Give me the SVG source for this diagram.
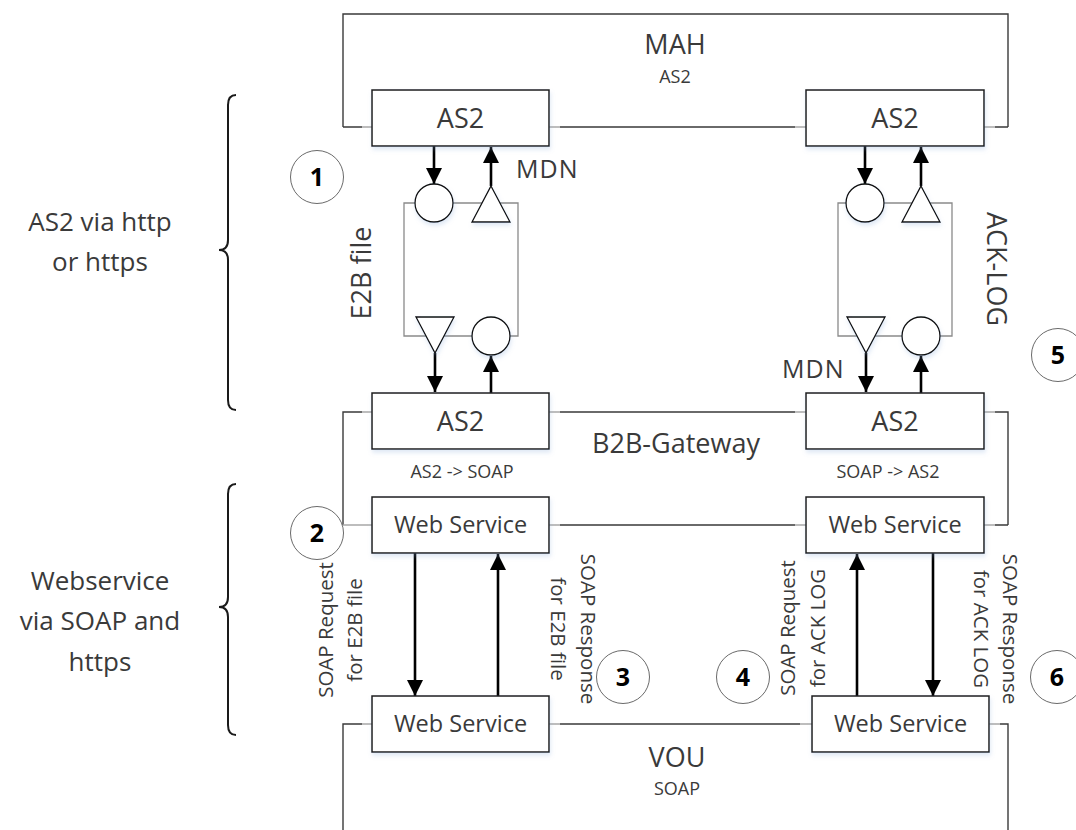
<svg xmlns="http://www.w3.org/2000/svg" width="1076" height="830" viewBox="0 0 1076 830">
  <defs>
    <marker id="arrow" viewBox="0 0 16 16" refX="16" refY="8" markerWidth="16" markerHeight="16" markerUnits="userSpaceOnUse" orient="auto">
      <path d="M0,0 L16,8 L0,16 z" fill="#000"/>
    </marker>
    <filter id="glow" x="-20%" y="-20%" width="140%" height="150%">
      <feDropShadow dx="1" dy="3" stdDeviation="2" flood-color="#7fa6d6" flood-opacity="0.25"/>
    </filter>
    <style>
      text { font-family: "Open Sans", "Liberation Sans", sans-serif; fill: #3a3a3a; }
      .box { fill: #fff; stroke: #1e1e1e; stroke-width: 1.5; filter: url(#glow); }
      .frame { fill: none; stroke: #3a3a3a; stroke-width: 1.4; }
      .stub { fill: none; stroke: #a8a8a8; stroke-width: 1.4; }
      .inner { fill: none; stroke: #8a8a8a; stroke-width: 1.3; }
      .port { fill: #fff; stroke: #111; stroke-width: 1.3; filter: url(#glow); }
      .flow { fill: none; stroke: #000; stroke-width: 2.6; marker-end: url(#arrow); }
      .brace { fill: none; stroke: #1a1a1a; stroke-width: 2; }
      .step { fill: #fff; stroke: #6a6a6a; stroke-width: 1; }
      .num { font-size: 25px; font-weight: bold; fill: #000; text-anchor: middle; }
      .lbl { font-size: 27px; text-anchor: middle; }
      .ws { font-size: 23.5px; text-anchor: middle; }
      .sub { font-size: 18px; text-anchor: middle; }
      .side { font-size: 26px; text-anchor: middle; }
      .vert { font-size: 20.5px; text-anchor: middle; }
      .mdn { font-size: 25px; letter-spacing: 1px; }
    </style>
  </defs>

  <!-- left-hand section labels with braces -->
  <g id="section-as2">
    <path class="brace" d="M236,95 Q228,95 228,105 V240 Q228,250 219,250 Q228,250 228,260 V400 Q228,410 236,410"/>
    <text class="side" x="100" y="231">AS2 via http</text>
    <text class="side" x="100" y="271">or https</text>
  </g>
  <g id="section-ws">
    <path class="brace" d="M236,484 Q228,484 228,494 V597 Q228,607 219,607 Q228,607 228,617 V725 Q228,735 236,735"/>
    <text class="side" x="100" y="590">Webservice</text>
    <text class="side" x="100" y="630">via SOAP and</text>
    <text class="side" x="100" y="671">https</text>
  </g>

  <!-- system frames -->
  <g id="mah">
    <path class="frame" d="M343,127 V14 H1008 V127"/>
    <path class="frame" d="M343,127 H362 M560,127 H795 M995,127 H1008"/>
    <path class="stub" d="M362,127 H372 M549,127 H560 M795,127 H806 M984,127 H995"/>
    <text class="lbl" x="675" y="54">MAH</text>
    <text class="sub" x="675" y="83">AS2</text>
  </g>
  <g id="b2b-gateway">
    <path class="frame" d="M343,525 V412 H362 M560,412 H795 M995,412 H1008 V525"/>
    <path class="stub" d="M362,412 H372 M549,412 H560 M795,412 H806 M984,412 H995"/>
    <path class="frame" d="M560,525 H795 M995,525 H1008"/>
    <path class="stub" d="M343,525 H372 M549,525 H560 M795,525 H806 M984,525 H995"/>
    <text class="lbl" x="676" y="453">B2B-Gateway</text>
  </g>
  <g id="vou">
    <path class="frame" d="M343,830 V724 H362 M560,724 H800 M1000,724 H1008 V830"/>
    <path class="stub" d="M362,724 H372 M549,724 H560 M800,724 H812 M989,724 H1000"/>
    <text class="lbl" x="677" y="767">VOU</text>
    <text class="sub" x="677" y="795">SOAP</text>
  </g>

  <!-- AS2 transfer channels -->
  <g id="channel-e2b">
    <path class="inner" d="M404,203 H518 V336 H404 Z"/>
    <text class="lbl" transform="translate(371,273) rotate(-90)">E2B file</text>
  </g>
  <g id="channel-ack">
    <path class="inner" d="M838,203 H952 V336 H838 Z"/>
    <text class="lbl" transform="translate(987,269) rotate(90)">ACK-LOG</text>
  </g>

  <!-- connectors -->
  <g id="connectors">
    <path class="flow" d="M434,146 V184"/>
    <path class="flow" d="M491,186 V147"/>
    <path class="flow" d="M435,353 V392"/>
    <path class="flow" d="M491,393 V356"/>
    <path class="flow" d="M865,146 V184"/>
    <path class="flow" d="M921,186 V147"/>
    <path class="flow" d="M866,353 V392"/>
    <path class="flow" d="M921,393 V356"/>
    <path class="flow" d="M415,553 V696"/>
    <path class="flow" d="M498,696 V554"/>
    <path class="flow" d="M857,696 V554"/>
    <path class="flow" d="M933,553 V696"/>
  </g>

  <!-- ports on the AS2 channels -->
  <g id="ports">
    <circle class="port" cx="434" cy="203" r="19"/>
    <polygon class="port" points="491,186 510,222 472,222"/>
    <polygon class="port" points="416,317 454,317 435,353"/>
    <circle class="port" cx="491" cy="336" r="19"/>
    <circle class="port" cx="865" cy="203" r="19"/>
    <polygon class="port" points="921,186 940,222 902,222"/>
    <polygon class="port" points="847,317 885,317 866,353"/>
    <circle class="port" cx="921" cy="336" r="19"/>
  </g>

  <!-- nodes -->
  <g id="mah-as2-left">
    <rect class="box" x="372" y="90" width="177" height="56"/>
    <text class="lbl" x="460.5" y="128">AS2</text>
  </g>
  <g id="mah-as2-right">
    <rect class="box" x="806" y="90" width="178" height="56"/>
    <text class="lbl" x="895" y="128">AS2</text>
  </g>
  <g id="gw-as2-left">
    <rect class="box" x="372" y="393" width="177" height="56"/>
    <text class="lbl" x="460.5" y="431">AS2</text>
    <text class="sub" x="462" y="478">AS2 -&gt; SOAP</text>
  </g>
  <g id="gw-as2-right">
    <rect class="box" x="806" y="393" width="178" height="56"/>
    <text class="lbl" x="895" y="431">AS2</text>
    <text class="sub" x="888" y="478">SOAP -&gt; AS2</text>
  </g>
  <g id="gw-ws-left">
    <rect class="box" x="372" y="497" width="177" height="56"/>
    <text class="ws" x="460.5" y="533">Web Service</text>
  </g>
  <g id="gw-ws-right">
    <rect class="box" x="806" y="497" width="178" height="56"/>
    <text class="ws" x="895" y="533">Web Service</text>
  </g>
  <g id="vou-ws-left">
    <rect class="box" x="372" y="696" width="177" height="56"/>
    <text class="ws" x="460.5" y="732">Web Service</text>
  </g>
  <g id="vou-ws-right">
    <rect class="box" x="812" y="696" width="177" height="56"/>
    <text class="ws" x="900.5" y="732">Web Service</text>
  </g>

  <!-- message labels -->
  <g id="labels">
    <text class="mdn" x="516" y="178">MDN</text>
    <text class="mdn" x="782" y="378">MDN</text>
    <text class="vert" transform="translate(333,630) rotate(-90)">SOAP Request</text>
    <text class="vert" transform="translate(362,630) rotate(-90)">for E2B file</text>
    <text class="vert" transform="translate(581,629) rotate(90)">SOAP Response</text>
    <text class="vert" transform="translate(551,629) rotate(90)">for E2B file</text>
    <text class="vert" transform="translate(795,628) rotate(-90)">SOAP Request</text>
    <text class="vert" transform="translate(825,628) rotate(-90)">for ACK LOG</text>
    <text class="vert" transform="translate(1003,629) rotate(90)">SOAP Response</text>
    <text class="vert" transform="translate(974,629) rotate(90)">for ACK LOG</text>
  </g>

  <!-- numbered steps -->
  <g id="step-1"><circle class="step" cx="317" cy="177" r="26.5"/><text class="num" x="317" y="186">1</text></g>
  <g id="step-2"><circle class="step" cx="317" cy="533" r="26.5"/><text class="num" x="317" y="542">2</text></g>
  <g id="step-3"><circle class="step" cx="623" cy="677" r="26.5"/><text class="num" x="623" y="686">3</text></g>
  <g id="step-4"><circle class="step" cx="743" cy="677" r="26.5"/><text class="num" x="743" y="686">4</text></g>
  <g id="step-5"><circle class="step" cx="1058" cy="355" r="26.5"/><text class="num" x="1058" y="364">5</text></g>
  <g id="step-6"><circle class="step" cx="1057" cy="677" r="26.5"/><text class="num" x="1057" y="686">6</text></g>
</svg>
